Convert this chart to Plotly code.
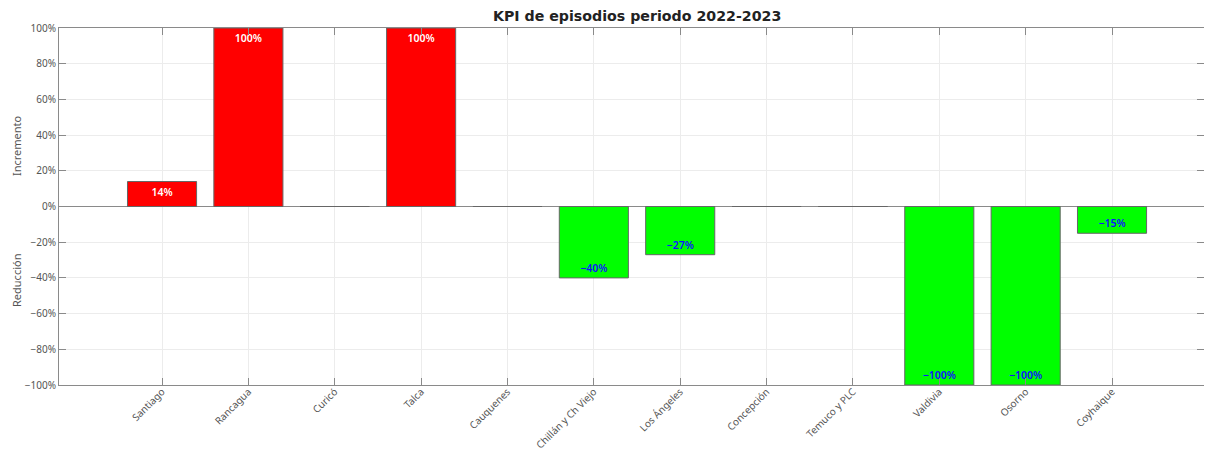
import plotly.graph_objects as go

categorias = ["Santiago", "Rancagua", "Curicó", "Talca", "Cauquenes", "Chillán y Ch Viejo",
              "Los Ángeles", "Concepción", "Temuco y PLC", "Valdivia", "Osorno", "Coyhaique"]
kpi = [0.14, 1.00, 0.0, 1.00, 0.0, -0.40, -0.27, 0.0, 0.0, -1.00, -1.00, -0.15]
y_ticks = [-1.0, -0.8, -0.6, -0.4, -0.2, 0.0, 0.2, 0.4, 0.6, 0.8, 1.0]

colores = ["#FF0000" if v > 0 else "#00FF00" for v in kpi]
textos = [("" if v == 0 else f"{round(v*100):d}%".replace("-", "\u2212")) for v in kpi]
color_texto = ["#FFFFFF" if v > 0 else "#1010FF" for v in kpi]

fig = go.Figure()
fig.add_trace(go.Bar(
    x=list(range(len(categorias))), y=kpi,
    width=0.8,
    marker=dict(color=colores, line=dict(color="#666666", width=1)),
    text=textos, textposition="inside", insidetextanchor="end",
    textangle=0,
    textfont=dict(family="Noto Sans", size=10.5, color=color_texto, weight=600),
    cliponaxis=False,
    showlegend=False,
))

axis_common = dict(showline=True, linecolor="#8a8a8a", linewidth=1, mirror="ticks",
                   ticks="inside", ticklen=7, tickcolor="#8a8a8a",
                   showgrid=True, gridcolor="#ececec", gridwidth=1,
                   automargin=False,
                   tickfont=dict(family="Noto Sans", size=10, color="#555555"))

fig.update_xaxes(**axis_common, tickmode="array", tickvals=list(range(len(categorias))),
                 ticktext=categorias, tickangle=-45, range=[-1.193, 12.065],
                 ticklabelstandoff=-4)
fig.update_yaxes(**axis_common, range=[-1, 1], tickvals=y_ticks, tickformat=".0%",
                 zeroline=True, zerolinecolor="#8a8a8a", zerolinewidth=1)

# page body has an 8px margin; keep the page inside the window and
# place the plot area where the reference has it
fig.update_layout(
    width=1196, height=442,
    margin=dict(l=51, r=0, t=20, b=65),
    paper_bgcolor="white", plot_bgcolor="white",
    title=dict(text="KPI de episodios periodo 2022-2023", x=0.526, xanchor="center",
               y=0.981, yanchor="middle",
               font=dict(family="DejaVu Sans", size=14.2, color="#222222", weight="bold")),
    annotations=[
        dict(text="Incremento", xref="paper", yref="paper", x=-0.0376, y=0.672,
             textangle=-90, showarrow=False, xanchor="center", yanchor="middle",
             font=dict(family="Noto Sans", size=11, color="#555555")),
        dict(text="Reducción", xref="paper", yref="paper", x=-0.0376, y=0.294,
             textangle=-90, showarrow=False, xanchor="center", yanchor="middle",
             font=dict(family="Noto Sans", size=11, color="#555555")),
    ],
)

fig.write_html("out.html")
